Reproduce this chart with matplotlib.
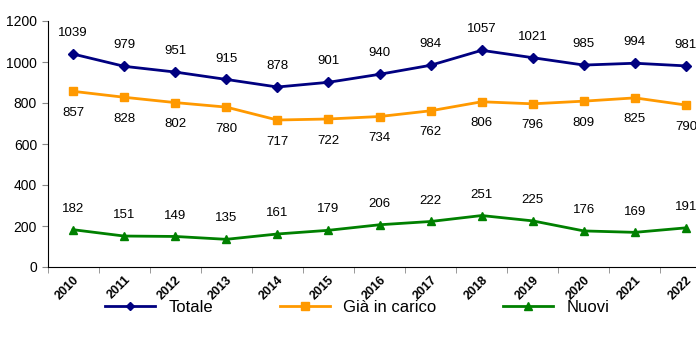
import matplotlib.pyplot as plt
import numpy as np

plt.rcParams['font.family'] = ['Liberation Sans', 'DejaVu Sans']

years = ["2010", "2011", "2012", "2013", "2014", "2015", "2016",
         "2017", "2018", "2019", "2020", "2021", "2022"]
totale = [1039, 979, 951, 915, 878, 901, 940, 984, 1057, 1021, 985, 994, 981]
in_carico = [857, 828, 802, 780, 717, 722, 734, 762, 806, 796, 809, 825, 790]
nuovi = [182, 151, 149, 135, 161, 179, 206, 222, 251, 225, 176, 169, 191]

x = np.arange(len(years))

fig = plt.figure(figsize=(6.96, 3.41), dpi=100)
ax = fig.add_axes([47.5 / 696, 74 / 341, 664 / 696, 246 / 341])

ax.plot(x, totale, color="#000080", marker="D", markersize=5, lw=2, label="Totale")
ax.plot(x, in_carico, color="#FF9900", marker="s", markersize=6, lw=2, label="Già in carico")
ax.plot(x, nuovi, color="#008000", marker="^", markersize=6, lw=2, label="Nuovi")

for xi, v in zip(x, totale):
    ax.annotate(str(v), (xi, v), xytext=(0, 15), textcoords="offset points",
                ha="center", va="center", fontsize=9.5)
for xi, v in zip(x, in_carico):
    ax.annotate(str(v), (xi, v), xytext=(0, -15.5), textcoords="offset points",
                ha="center", va="center", fontsize=9.5)
for xi, v in zip(x, nuovi):
    ax.annotate(str(v), (xi, v), xytext=(0, 15), textcoords="offset points",
                ha="center", va="center", fontsize=9.5)

ax.set_ylim(0, 1200)
ax.set_yticks(range(0, 1201, 200))
ax.set_xlim(-0.5, len(years) - 0.5)
ax.set_xticks(x)
ax.set_xticklabels(years, rotation=45, ha="right", rotation_mode="anchor",
                   fontweight="bold", fontsize=9)
ax.set_xticks(np.arange(-0.5, len(years), 1), minor=True)
ax.tick_params(axis="x", which="major", length=0, pad=5)
ax.tick_params(axis="x", which="minor", length=4, color="#888888")
ax.tick_params(axis="y", length=4, color="#888888", labelsize=10)
for s in ["top", "right"]:
    ax.spines[s].set_visible(False)

ax.legend(loc="center", bbox_to_anchor=(357 / 696, 34 / 341), bbox_transform=fig.transFigure,
          ncol=3, frameon=False, fontsize=12, columnspacing=4.0, handlelength=3.0,
          handletextpad=0.8, markerscale=0.9)

fig.savefig("out.png", dpi=100)
